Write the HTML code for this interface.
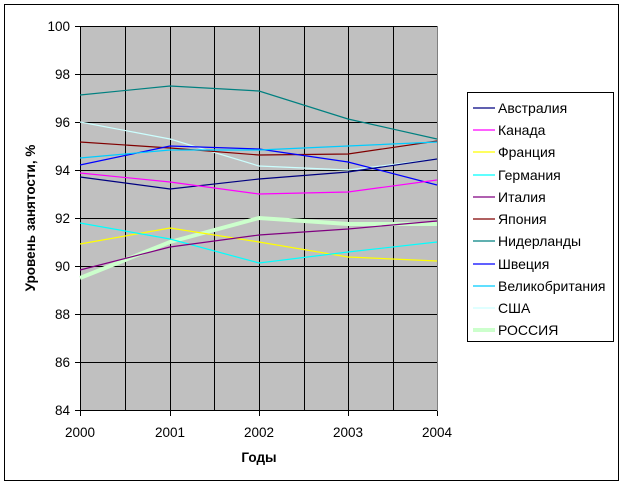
<!DOCTYPE html>
<html><head><meta charset="utf-8"><style>
body{margin:0;background:#fff;}
svg{display:block;font-family:"Liberation Sans",Arial,sans-serif;}
</style></head><body>
<svg width="623" height="486" viewBox="0 0 623 486">
<rect x="0" y="0" width="623" height="486" fill="#fff"/>
<rect x="4.5" y="4.5" width="614" height="476" fill="none" stroke="#000" stroke-width="1"/>
<rect x="80" y="26" width="357" height="385" fill="#c0c0c0"/>
<g stroke="#000" stroke-width="1">
<line x1="80" y1="26.5" x2="437" y2="26.5"/>
<line x1="80" y1="74.5" x2="437" y2="74.5"/>
<line x1="80" y1="122.5" x2="437" y2="122.5"/>
<line x1="80" y1="170.5" x2="437" y2="170.5"/>
<line x1="80" y1="218.5" x2="437" y2="218.5"/>
<line x1="80" y1="266.5" x2="437" y2="266.5"/>
<line x1="80" y1="314.5" x2="437" y2="314.5"/>
<line x1="80" y1="362.5" x2="437" y2="362.5"/>
<line x1="125.5" y1="26" x2="125.5" y2="411"/>
<line x1="170.5" y1="26" x2="170.5" y2="411"/>
<line x1="214.5" y1="26" x2="214.5" y2="411"/>
<line x1="259.5" y1="26" x2="259.5" y2="411"/>
<line x1="304.5" y1="26" x2="304.5" y2="411"/>
<line x1="348.5" y1="26" x2="348.5" y2="411"/>
<line x1="393.5" y1="26" x2="393.5" y2="411"/>
<line x1="80.5" y1="26" x2="80.5" y2="411"/>
<line x1="80" y1="410.5" x2="437" y2="410.5"/>
<line x1="75" y1="26.5" x2="80" y2="26.5"/><line x1="75" y1="74.5" x2="80" y2="74.5"/><line x1="75" y1="122.5" x2="80" y2="122.5"/><line x1="75" y1="170.5" x2="80" y2="170.5"/><line x1="75" y1="218.5" x2="80" y2="218.5"/><line x1="75" y1="266.5" x2="80" y2="266.5"/><line x1="75" y1="314.5" x2="80" y2="314.5"/><line x1="75" y1="362.5" x2="80" y2="362.5"/><line x1="75" y1="410.5" x2="80" y2="410.5"/>
<line x1="80.5" y1="411" x2="80.5" y2="416"/><line x1="170.5" y1="411" x2="170.5" y2="416"/><line x1="259.5" y1="411" x2="259.5" y2="416"/><line x1="348.5" y1="411" x2="348.5" y2="416"/><line x1="437.5" y1="411" x2="437.5" y2="416"/>
</g>
<line x1="437.5" y1="26" x2="437.5" y2="411" stroke="#808080"/>
<g fill="none" stroke-width="1.2">
<polyline stroke="#ccffcc" stroke-width="4" points="80,278 170,242 259,218 348,224 437,224"/>
<polyline stroke="#008080" points="80,95 170,86 259,91 348,119 437,139"/>
<polyline stroke="#ccffff" points="80,122 170,139 259,166 348,170 437,159"/>
<polyline stroke="#800000" points="80,142 170,148 259,155 348,154 437,141"/>
<polyline stroke="#0000ff" points="80,165 170,146 259,149 348,162 437,185"/>
<polyline stroke="#00ccff" points="80,158 170,150 259,150 348,146 437,142"/>
<polyline stroke="#000080" points="80,177 170,189 259,179 348,172 437,159"/>
<polyline stroke="#ff00ff" points="80,173 170,182 259,194 348,192 437,180"/>
<polyline stroke="#ffff00" points="80,244 170,228 259,242 348,257 437,261"/>
<polyline stroke="#00ffff" points="80,223 170,239 259,263 348,252 437,242"/>
<polyline stroke="#800080" points="80,270 170,247 259,235 348,229 437,221"/>
</g>
<g font-size="13.5" fill="#000" text-anchor="end">
<text x="70" y="31">100</text><text x="70" y="79">98</text><text x="70" y="127">96</text><text x="70" y="175">94</text><text x="70" y="223">92</text><text x="70" y="271">90</text><text x="70" y="319">88</text><text x="70" y="367">86</text><text x="70" y="415">84</text>
</g>
<g font-size="13.5" fill="#000" text-anchor="middle">
<text x="80" y="437">2000</text><text x="170" y="437">2001</text><text x="259" y="437">2002</text><text x="348" y="437">2003</text><text x="437" y="437">2004</text>
</g>
<text x="259" y="462" font-size="13.5" font-weight="bold" text-anchor="middle">Годы</text>
<text transform="translate(35,218) rotate(-90)" font-size="13.5" font-weight="bold" text-anchor="middle">Уровень занятости, %</text>
<rect x="467.5" y="92.5" width="146" height="249" fill="#fff" stroke="#000"/>
<g stroke-width="1.2">
<line x1="473" y1="108" x2="495" y2="108" stroke="#000080"/>
<line x1="473" y1="130" x2="495" y2="130" stroke="#ff00ff"/>
<line x1="473" y1="152" x2="495" y2="152" stroke="#ffff00"/>
<line x1="473" y1="175" x2="495" y2="175" stroke="#00ffff"/>
<line x1="473" y1="197" x2="495" y2="197" stroke="#800080"/>
<line x1="473" y1="219" x2="495" y2="219" stroke="#800000"/>
<line x1="473" y1="241" x2="495" y2="241" stroke="#008080"/>
<line x1="473" y1="264" x2="495" y2="264" stroke="#0000ff"/>
<line x1="473" y1="286" x2="495" y2="286" stroke="#00ccff"/>
<line x1="473" y1="308" x2="495" y2="308" stroke="#ccffff"/>
<line x1="473" y1="330" x2="495" y2="330" stroke="#ccffcc" stroke-width="4"/>
</g>
<g font-size="14" fill="#000">
<text x="498" y="113">Австралия</text>
<text x="498" y="135">Канада</text>
<text x="498" y="157">Франция</text>
<text x="498" y="180">Германия</text>
<text x="498" y="202">Италия</text>
<text x="498" y="224">Япония</text>
<text x="498" y="246">Нидерланды</text>
<text x="498" y="269">Швеция</text>
<text x="498" y="291">Великобритания</text>
<text x="498" y="313">США</text>
<text x="498" y="335">РОССИЯ</text>
</g>
</svg>
</body></html>
